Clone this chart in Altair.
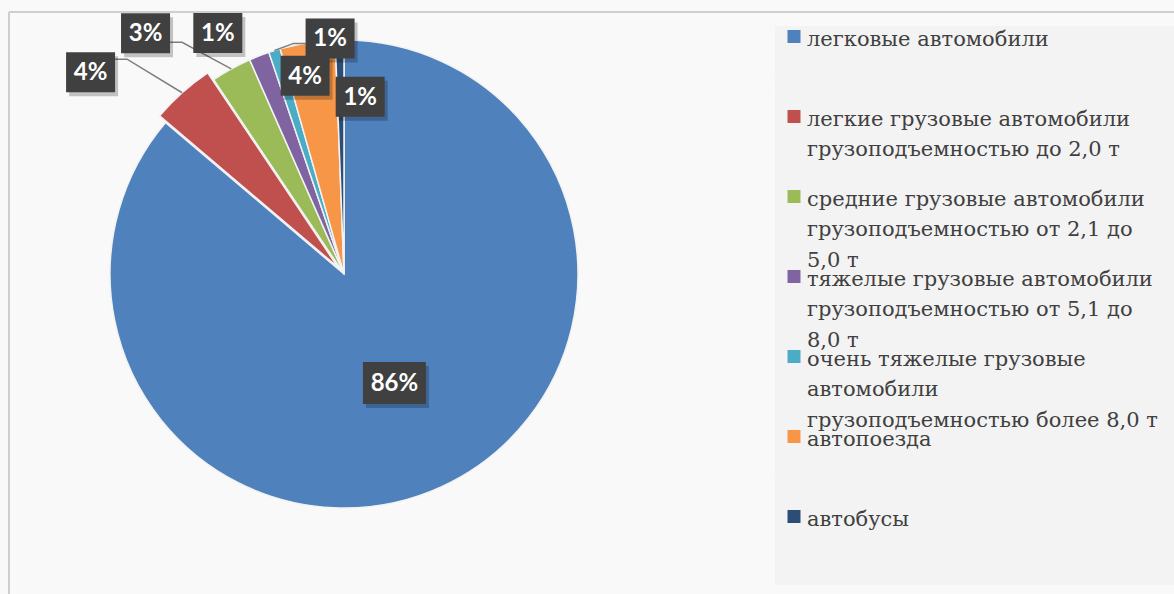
import altair as alt
import pandas as pd
import numpy as np

# ---------------- data ----------------
categories = [
    "легковые автомобили",
    "легкие грузовые автомобили грузоподъемностью до 2,0 т",
    "средние грузовые автомобили грузоподъемностью от 2,1 до 5,0 т",
    "тяжелые грузовые автомобили грузоподъемностью от 5,1 до 8,0 т",
    "очень тяжелые грузовые автомобили грузоподъемностью более 8,0 т",
    "автопоезда",
    "автобусы",
]
legend_lines = [
    "легковые автомобили",
    "легкие грузовые автомобили\nгрузоподъемностью до 2,0 т",
    "средние грузовые автомобили\nгрузоподъемностью от 2,1 до\n5,0 т",
    "тяжелые грузовые автомобили\nгрузоподъемностью от 5,1 до\n8,0 т",
    "очень тяжелые грузовые\nавтомобили\nгрузоподъемностью более 8,0 т",
    "автопоезда",
    "автобусы",
]
shares = [86.2, 4.4, 2.8, 1.4, 0.8, 3.8, 0.6]
pct_labels = ["86%", "4%", "3%", "1%", "1%", "4%", "1%"]
colors = ["#4f81bd", "#c0504d", "#9bbb59", "#8064a2", "#4bacc6", "#f79646", "#2c4d75"]

# ---------------- layout / style ----------------
CX, CY, R = 344, 274, 234
explode_px = [0, 9, 0, 0, 0, 0, 0]
label_angle_shift = [0, -9.7, -10.7, -6.4, 13.9, -2.1, 6.3]   # degrees from slice middle
label_radius = [120, 324, 312, 272, 236, 202, 178]
has_leader = [False, True, True, False, True, False, False]
leader_dy = [0, -13, 9, 0, 5, 0, 0]

vals = np.array(shares, dtype=float)
frac = vals / vals.sum()
t1 = np.cumsum(frac) * 2 * np.pi
t0 = t1 - frac * 2 * np.pi
mid = (t0 + t1) / 2

df = pd.DataFrame({
    "name": categories,
    "legend": legend_lines,
    "t0": t0,
    "t1": t1,
    "pct": pct_labels,
})
ex = np.array(explode_px, dtype=float)
df["cx"] = CX + ex * np.sin(mid)
df["cy"] = CY - ex * np.cos(mid)

la = mid + np.radians(label_angle_shift)
lr = np.array(label_radius, dtype=float)
df["lx"] = CX + lr * np.sin(la)
df["ly"] = CY - lr * np.cos(la)
bw = np.array([63 if len(p) > 2 else 49 for p in pct_labels], dtype=float)
bh = np.array([42 if len(p) > 2 else 40 for p in pct_labels], dtype=float)
df["bx0"] = df["lx"] - bw / 2
df["bx1"] = df["lx"] + bw / 2
df["by0"] = df["ly"] - bh / 2
df["by1"] = df["ly"] + bh / 2
df["sx0"] = df["bx0"] + 3
df["sx1"] = df["bx1"] + 3
df["sy0"] = df["by0"] + 4
df["sy1"] = df["by1"] + 4

# leader lines
rows = []
for i in range(len(categories)):
    if not has_leader[i]:
        continue
    rr = R + ex[i]
    px = CX + rr * np.sin(mid[i])
    py = CY - rr * np.cos(mid[i])
    if df["lx"][i] < px:
        edge = df["bx1"][i]
        elbow = edge + 12
    else:
        edge = df["bx0"][i]
        elbow = edge - 12
    yy = df["ly"][i] + leader_dy[i]
    rows += [
        {"id": i, "o": 0, "x": px, "y": py},
        {"id": i, "o": 1, "x": elbow, "y": yy},
        {"id": i, "o": 2, "x": edge, "y": yy},
    ]
leaders = pd.DataFrame(rows)

color_scale = alt.Scale(domain=categories, range=colors)
X = lambda f: alt.X(f, type="quantitative", scale=None, axis=None)
Y = lambda f: alt.Y(f, type="quantitative", scale=None, axis=None)
one = alt.Data(values=[{"a": 1}])

# frame lines
frame_top = alt.Chart(one).mark_rule(color="#d4d4d4", strokeWidth=2).encode(
    x=alt.value(9), x2=alt.value(1174), y=alt.value(12))
frame_left = alt.Chart(one).mark_rule(color="#d4d4d4", strokeWidth=2).encode(
    x=alt.value(9), y=alt.value(12), y2=alt.value(594))

# legend background
legend_bg = alt.Chart(one).mark_rect(color="#f9f9f9").encode(
    x=alt.value(775), x2=alt.value(1174), y=alt.value(26), y2=alt.value(585))

# pie shadow (soft rings)
shadow_df = pd.DataFrame({"r": [236, 240, 244, 248, 252, 256, 260, 264, 268]})
shadow = alt.Chart(shadow_df).mark_arc(theta=0, theta2=2 * np.pi, color="black", opacity=0.022).encode(
    x=alt.value(CX - 4), y=alt.value(CY + 12), radius=alt.Radius("r:Q", scale=None))

pie = alt.Chart(df).mark_arc(radius=R, stroke="#f2f2f2", strokeWidth=1.5).encode(
    theta=alt.Theta("t0:Q", scale=None),
    theta2=alt.Theta2("t1:Q"),
    x=X("cx"), y=Y("cy"),
    color=alt.Color("name:N", scale=color_scale, legend=None),
)

lead = alt.Chart(leaders).mark_line(color="#7f7f7f", strokeWidth=1.5).encode(
    x=X("x"), y=Y("y"), detail="id:N", order="o:Q")

box_shadow = alt.Chart(df).mark_rect(color="black", opacity=0.22).encode(
    x=X("sx0"), x2="sx1", y=Y("sy0"), y2="sy1")
box = alt.Chart(df).mark_rect(color="#404040").encode(
    x=X("bx0"), x2="bx1", y=Y("by0"), y2="by1")
box_text = alt.Chart(df).mark_text(
    font="Lato", fontWeight="bold", fontSize=24, color="white",
    align="center", baseline="middle", dy=1,
).encode(x=X("lx"), y=Y("ly"), text="pct:N")

leg_y = alt.Y("name:N", sort=categories, axis=None,
              scale=alt.Scale(type="point", range=[36.5, 516.5], padding=0))
leg_sq = alt.Chart(df).mark_square(size=169, opacity=1).encode(
    x=alt.value(794), y=leg_y,
    color=alt.Color("name:N", scale=color_scale, legend=None))
leg_txt = alt.Chart(df).mark_text(
    font="DejaVu Serif",
    fontSize=21, color="#404040", align="left",
    baseline="alphabetic", dy=9, lineBreak="\n", lineHeight=30.5,
).encode(x=alt.value(807), y=leg_y, text="legend:N")

chart = alt.layer(
    frame_top, frame_left, legend_bg, shadow, pie, lead,
    box_shadow, box, box_text, leg_sq, leg_txt,
).resolve_scale(x="independent", y="independent").properties(
    width=1174, height=594, padding=0,
    autosize=alt.AutoSizeParams(type="none"),
    background="white",
).configure_view(stroke=None)

chart.save("out.html", embed_options={"renderer": "svg", "actions": False})
